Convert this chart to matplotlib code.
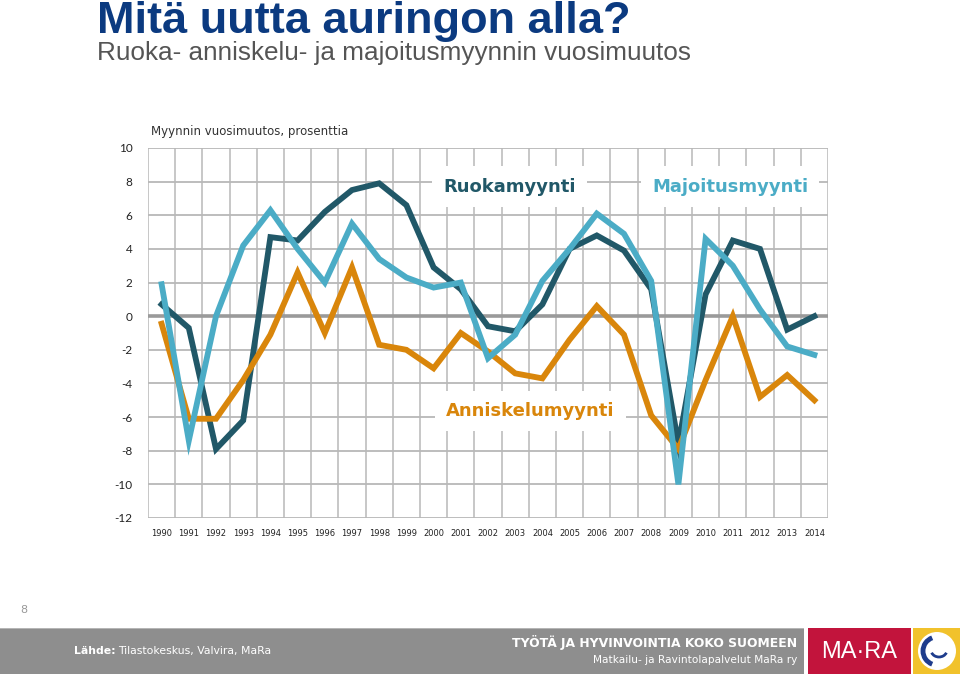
import matplotlib
matplotlib.use("Agg")
import matplotlib.pyplot as plt
from matplotlib.patches import Rectangle, Circle, Arc

# =============================
# Data
# =============================

years = list(range(1990, 2015))

ruoka = [0.7, -0.7, -7.9, -6.2, 4.7, 4.5, 6.2, 7.5, 7.9, 6.6,
         2.9, 1.6, -0.6, -0.9, 0.7, 4.0, 4.8, 3.9, 1.6, -7.6,
         1.3, 4.5, 4.0, -0.8, 0.0]

anniskelu = [-0.45, -6.1, -6.1, -3.8, -1.1, 2.6, -1.0, 2.9, -1.7, -2.0,
             -3.1, -1.0, -2.1, -3.4, -3.7, -1.4, 0.6, -1.1, -5.9, -7.9,
             -3.8, 0.0, -4.8, -3.5, -5.0]

majoitus = [1.9, -7.4, 0.0, 4.2, 6.3, 4.0, 2.0, 5.5, 3.4, 2.3,
            1.7, 2.0, -2.5, -1.1, 2.1, 4.0, 6.1, 4.9, 2.1, -10.0,
            4.6, 3.0, 0.4, -1.8, -2.3]

yticks = list(range(-12, 11, 2))

col_ruoka = "#215868"
col_anniskelu = "#D9860B"
col_majoitus = "#4BACC6"
grid_col = "#B8B8B8"

fig = plt.figure(figsize=(9.6, 6.74), dpi=100)

# =============================
# Title
# =============================

fig.text(97 / 960, 1 - 33 / 674, "Mitä uutta auringon alla?", family="Liberation Sans",
         fontsize=32.5, fontweight="bold", color="#0B3A80", va="baseline", ha="left")
fig.text(97 / 960, 1 - 53 / 674, "Ruoka- anniskelu- ja majoitusmyynnin vuosimuutos",
         family="Liberation Sans", fontsize=18.8, color="#555555", va="center", ha="left")

# =============================
# Main chart
# =============================

ax = fig.add_axes([148 / 960, 1 - 518 / 674, 680 / 960, 370 / 674])
x = list(range(len(years)))

ax.set_xlim(-0.5, len(years) - 0.5)
ax.set_ylim(-12, 10)

for b in range(len(years) + 1):
    ax.axvline(b - 0.5, color=grid_col, lw=1.1, zorder=0.5)
for yv in yticks:
    if yv != 0:
        ax.axhline(yv, color=grid_col, lw=1.3, zorder=0.5)
ax.axhline(0, color="#9A9A9A", lw=2.6, zorder=0.6)

for s in ax.spines.values():
    s.set_visible(False)

ax.plot(x, ruoka, color=col_ruoka, lw=4.2, solid_joinstyle="miter", zorder=3)
ax.plot(x, anniskelu, color=col_anniskelu, lw=4.2, solid_joinstyle="miter", zorder=3)
ax.plot(x, majoitus, color=col_majoitus, lw=4.2, solid_joinstyle="miter", zorder=3)

box = dict(facecolor="white", edgecolor="none", pad=8)
ax.text(12.8, 7.7, "Ruokamyynti", color=col_ruoka, fontsize=13, fontweight="bold",
        ha="center", va="center", bbox=box, zorder=2)
ax.text(20.9, 7.7, "Majoitusmyynti", color=col_majoitus, fontsize=13, fontweight="bold",
        ha="center", va="center", bbox=box, zorder=2)
ax.text(13.55, -5.65, "Anniskelumyynti", color=col_anniskelu, fontsize=13, fontweight="bold",
        ha="center", va="center", bbox=box, zorder=2)

ax.set_yticks(yticks)
ax.set_yticklabels([str(v) for v in yticks], fontsize=8.5, color="#222222", family="Lato")
ax.set_xticks(x)
ax.set_xticklabels([str(y) for y in years], fontsize=6, color="#222222")
ax.tick_params(axis="y", length=0, pad=11)
ax.tick_params(axis="x", length=0, pad=8)

fig.text(151 / 960, 1 - 132 / 674, "Myynnin vuosimuutos, prosenttia",
         fontsize=8.5, color="#333333", va="center", ha="left")

# page number
fig.text(24 / 960, 1 - 610 / 674, "8", fontsize=8, color="#999999", va="center", ha="center")

# =============================
# Footer
# =============================

fax = fig.add_axes([0, 0, 1, 46 / 674])
fax.set_xlim(0, 960)
fax.set_ylim(0, 46)
fax.axis("off")

fax.add_patch(Rectangle((0, 0), 804, 46, facecolor="#8E8E8E", edgecolor="none"))
fax.add_patch(Rectangle((0, 45), 804, 1, facecolor="#B5B5B5", edgecolor="none"))
fax.add_patch(Rectangle((808, 0), 103, 46, facecolor="#C2143C", edgecolor="none"))
fax.add_patch(Rectangle((913, 0), 47, 46, facecolor="#F1C22C", edgecolor="none"))
fax.add_patch(Circle((937, 23), 19, facecolor="white", edgecolor="none"))
fax.add_patch(Arc((937, 23), 28, 28, theta1=110, theta2=250, color="#1E3C8C", lw=3.5))
fax.add_patch(Arc((939, 24), 16, 14, theta1=200, theta2=340, color="#1E3C8C", lw=2))

fax.text(74, 23, "Lähde:", fontsize=7.8, fontweight="bold", color="white", va="center", ha="left")
fax.text(118, 23, "Tilastokeskus, Valvira, MaRa", fontsize=7.8, color="white",
         va="center", ha="left")
fax.text(797, 31, "TYÖTÄ JA HYVINVOINTIA KOKO SUOMEEN", fontsize=8.9, fontweight="bold",
         color="white", va="center", ha="right")
fax.text(797, 14, "Matkailu- ja Ravintolapalvelut MaRa ry", fontsize=7.6, color="white",
         va="center", ha="right")
fax.text(859, 22, "MA·RA", fontsize=17, color="white", family="Liberation Sans",
         va="center", ha="center")

fig.savefig("out.png", dpi=100)
plt.close(fig)
